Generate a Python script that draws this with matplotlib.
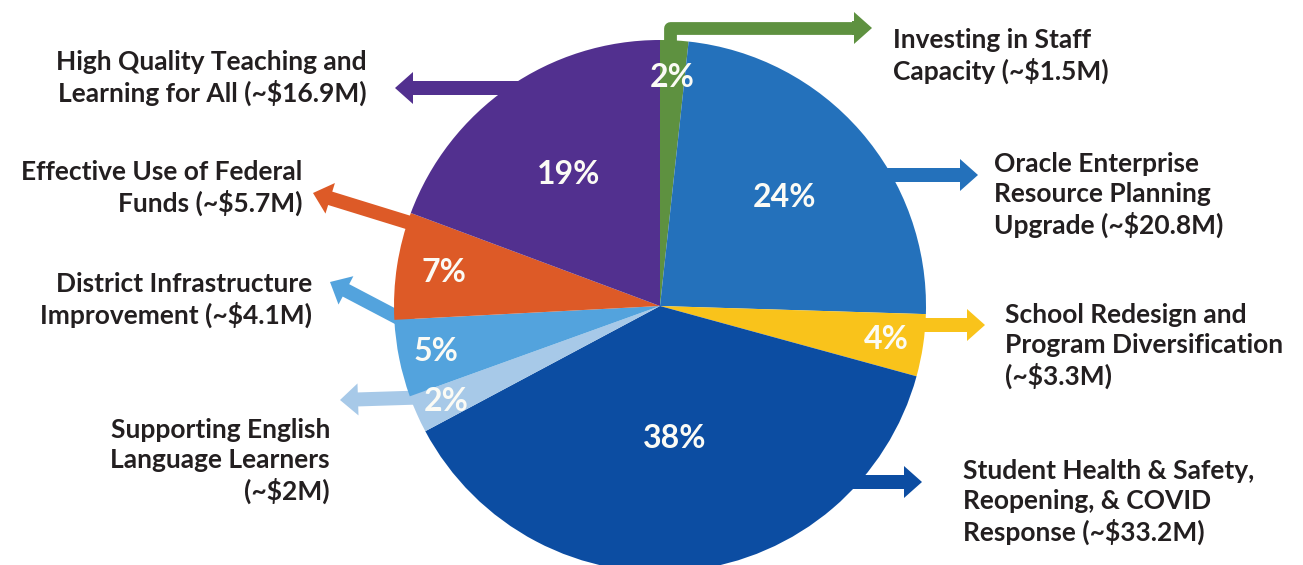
import numpy as np
import matplotlib as mpl
mpl.use('Agg')
import matplotlib.pyplot as plt
from matplotlib.patches import FancyArrow
from matplotlib.lines import Line2D

# slices, clockwise from the top
categories = ['Investing in Staff\nCapacity (~$1.5M)',
              'Oracle Enterprise\nResource Planning\nUpgrade (~$20.8M)',
              'School Redesign and\nProgram Diversification\n(~$3.3M)',
              'Student Health & Safety,\nReopening, & COVID\nResponse (~$33.2M)',
              'Supporting English\nLanguage Learners\n(~$2M)',
              'District Infrastructure\nImprovement (~$4.1M)',
              'Effective Use of Federal\nFunds (~$5.7M)',
              'High Quality Teaching and\nLearning for All (~$16.9M)']
amounts = [1.5, 20.8, 3.3, 33.2, 2.0, 4.1, 5.7, 16.9]   # $M
colors = ['#5e9140', '#2471bb', '#f9c31b', '#0c4da2',
          '#a7c9e8', '#53a3dd', '#dd5a27', '#52308f']

# layout (pixels, origin top-left)
label_xy = [(893, 56), (994, 195), (1005, 346), (963, 502),
            (330, 461), (312, 300), (302, 188), (367, 78)]
tip_xy = [(872, 28), (978, 175), (985, 325), (922, 482),
          (340, 400), (330, 282), (313, 193), (395, 88)]
pct_r = [0.86, 0.62, 0.86, 0.5, 0.88, 0.86, 0.82, 0.6]

W, H = 1303, 565
cx, cy, R = 660, H - 306, 266
txt_col = '#231f20'
plt.rcParams['font.family'] = ['Lato', 'DejaVu Sans']

fig = plt.figure(figsize=(W / 100, H / 100), dpi=100)
ax = fig.add_axes([0, 0, 1, 1])

wedges, _ = ax.pie(amounts, colors=colors, startangle=90, counterclock=False,
                   center=(cx, cy), radius=R, frame=True,
                   wedgeprops=dict(lw=0, zorder=3))
ax.set_xlim(0, W)
ax.set_ylim(0, H)
ax.axis('off')

total = sum(amounts)

def arrow(x0, y0, x1, y1, c):
    ax.add_patch(FancyArrow(x0, y0, x1 - x0, y1 - y0, width=14, head_width=32,
                            head_length=18, length_includes_head=True,
                            color=c, lw=0, zorder=1))

for i, w in enumerate(wedges):
    th1, th2 = w.theta1, w.theta2
    mid = (th1 + th2) / 2
    c = colors[i]
    tx, ty = tip_xy[i][0], H - tip_xy[i][1]
    lx, ly = label_xy[i][0], H - label_xy[i][1]

    # percent label
    r = pct_r[i] * R
    ax.text(cx + r * np.cos(np.radians(mid)), cy + r * np.sin(np.radians(mid)),
            '%.0f%%' % (amounts[i] / total * 100), color='#fbfbf5',
            fontsize=23, fontweight='bold', ha='center', va='center', zorder=5)

    # category label
    right = tx > cx
    ax.text(lx, ly, categories[i], color=txt_col, fontsize=19, fontweight='bold',
            ha='left' if right else 'right', va='center',
            multialignment='left' if right else 'right', linespacing=1.3, zorder=5)

    if i == 0:
        # elbow arrow out of the top of the small slice
        xg = cx + R * np.cos(np.radians(mid)) - 4
        ax.add_line(Line2D([xg, xg, tx - 16], [cy + R - 20, ty, ty], color=c,
                           lw=9.2, solid_joinstyle='round', solid_capstyle='butt',
                           zorder=1))
        arrow(tx - 20, ty, tx, ty, c)
        continue

    s = np.clip((ty - cy) / R, -1, 1)
    a = np.degrees(np.arcsin(s))
    if not right:
        a = 180 - a
    a = mid + ((a - mid + 180) % 360 - 180)
    lo, hi = th1 + 2, th2 - 2
    if lo <= a <= hi:
        ex = cx + R * np.cos(np.radians(a))
        x0 = ex - 30 if right else ex + 30
        arrow(x0, ty, tx, ty, c)
    else:
        a = np.clip(a, lo, hi)
        x0 = cx + 0.92 * R * np.cos(np.radians(a))
        y0 = cy + 0.92 * R * np.sin(np.radians(a))
        arrow(x0, y0, tx, ty, c)

fig.savefig('out.png', dpi=100, facecolor='white')
